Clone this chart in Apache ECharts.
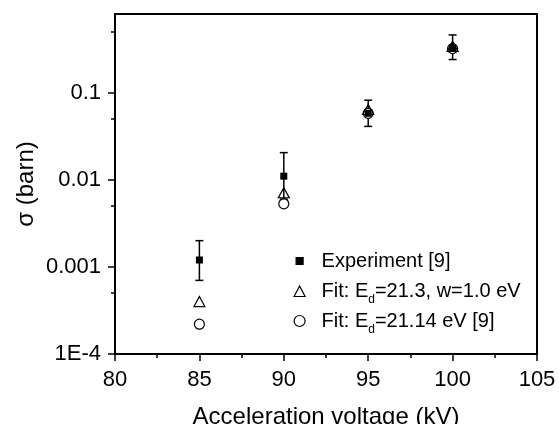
<!DOCTYPE html>
<html>
<head>
<meta charset="utf-8">
<script src="https://cdn.jsdelivr.net/npm/echarts@6/dist/echarts.min.js"></script>
<style>
  html, body { margin: 0; padding: 0; background: #fff; }
  #chart { width: 559px; height: 424px; }
</style>
</head>
<body>
<div id="chart"></div>
<script>
// values
const voltage = [85, 90, 95, 100];
const expValue = [0.0012, 0.011, 0.058, 0.33];
const expLow = [0.0007, 0.006, 0.041, 0.24];
const expHigh = [0.002, 0.0205, 0.082, 0.46];
const fitW = [0.0004, 0.0071, 0.064, 0.34];
const fitOld = [0.00022, 0.0053, 0.058, 0.32];

const yMajor = [1e-4, 1e-3, 1e-2, 1e-1];
const yMinor = [5e-4, 5e-3, 5e-2, 5e-1];

const names = ['Experiment [9]', 'Fit: Ed=21.3, w=1.0 eV', 'Fit: Ed=21.14 eV [9]'];
const legendText = {
  'Experiment [9]': '{f|Experiment [9]}',
  'Fit: Ed=21.3, w=1.0 eV': '{f|Fit: E}{s|d}{m|=21.3, w=1.0 eV}',
  'Fit: Ed=21.14 eV [9]': '{f|Fit: E}{s|d}{m|=21.14 eV [9]}'
};

const font = 'Liberation Sans';
const chart = echarts.init(document.getElementById('chart'));

const pairs = (ys) => voltage.map((x, i) => [x, ys[i]]);
const bars = voltage.map((x, i) => [x, expLow[i], expHigh[i]]);

const option = {
  animation: false,
  grid: {
    left: 115, right: 22, top: 14, bottom: 70,
    outerBoundsMode: 'none',
    show: true, borderColor: '#000', borderWidth: 2
  },
  xAxis: {
    type: 'value',
    min: 80, max: 105, interval: 5,
    name: 'Acceleration voltage (kV)',
    nameLocation: 'middle',
    nameGap: 51,
    nameTextStyle: { fontFamily: font, fontSize: 24, color: '#000' },
    axisLine: { lineStyle: { color: '#000', width: 2 } },
    axisTick: { length: 7, lineStyle: { color: '#000', width: 1.5 } },
    minorTick: { show: true, splitNumber: 2, length: 4, lineStyle: { color: '#000', width: 1.5 } },
    splitLine: { show: false },
    axisLabel: { fontFamily: font, fontSize: 22, color: '#000', margin: 15 }
  },
  yAxis: [
    {
      type: 'log', logBase: 10,
      min: 1e-4, max: 0.8,
      name: 'σ (barn)',
      nameLocation: 'middle',
      nameGap: 77,
      nameMoveOverlap: false,
      nameTextStyle: { fontFamily: font, fontSize: 24, color: '#000' },
      axisLine: { lineStyle: { color: '#000', width: 2 } },
      axisTick: { customValues: yMajor, length: 7, lineStyle: { color: '#000', width: 1.5 } },
      splitLine: { show: false },
      axisLabel: {
        customValues: yMajor,
        fontFamily: font, fontSize: 22, color: '#000', margin: 14,
        formatter: v => (v < 5e-4 ? '1E-4' : String(+v.toPrecision(3)))
      }
    },
    {
      type: 'log', logBase: 10,
      min: 1e-4, max: 0.8,
      position: 'left',
      axisLine: { show: false },
      axisTick: { customValues: yMinor, length: 4, lineStyle: { color: '#000', width: 1.5 } },
      axisLabel: { show: false },
      splitLine: { show: false }
    }
  ],
  legend: {
    orient: 'vertical',
    left: 287, top: 241,
    itemWidth: 14, itemHeight: 14,
    itemGap: 0,
    data: [
      { name: names[0], icon: 'path://M0,0M14,14M3.5,3.5L10.5,3.5L10.5,10.5L3.5,10.5Z' },
      { name: names[1], icon: 'path://M0,0M14,14M1.5,12.5L7,2L12.5,12.5Z' },
      { name: names[2], icon: 'path://M0,0M14,14M12.5,7A5.5,5.5,0,1,1,1.5,7A5.5,5.5,0,1,1,12.5,7Z' }
    ],
    itemStyle: { borderWidth: 1.2, borderColor: '#000' },
    formatter: name => legendText[name],
    textStyle: {
      lineHeight: 30,
      rich: {
        f: { fontFamily: font, fontSize: 20, color: '#000', lineHeight: 30, height: 30, padding: [0, 0, 0, 10] },
        m: { fontFamily: font, fontSize: 20, color: '#000', lineHeight: 30, height: 30 },
        s: { fontFamily: font, fontSize: 12, color: '#000', lineHeight: 12, height: 12, padding: [6, 0, 0, 0], verticalAlign: 'bottom' }
      }
    }
  },
  series: [
    {
      name: 'errorbars',
      type: 'custom',
      data: bars,
      encode: { x: 0, y: [1, 2] },
      z: 1,
      renderItem: (params, api) => {
        const x = api.value(0);
        const lo = api.coord([x, api.value(1)]);
        const hi = api.coord([x, api.value(2)]);
        const cap = 4;
        const st = { stroke: '#000', lineWidth: 1.5 };
        return {
          type: 'group',
          children: [
            { type: 'line', shape: { x1: lo[0], y1: lo[1], x2: hi[0], y2: hi[1] }, style: st },
            { type: 'line', shape: { x1: lo[0] - cap, y1: lo[1], x2: lo[0] + cap, y2: lo[1] }, style: st },
            { type: 'line', shape: { x1: hi[0] - cap, y1: hi[1], x2: hi[0] + cap, y2: hi[1] }, style: st }
          ]
        };
      }
    },
    {
      name: names[2],
      type: 'scatter',
      data: pairs(fitOld),
      symbol: 'circle',
      symbolSize: 10,
      z: 2,
      itemStyle: { color: '#fff', borderColor: '#000', borderWidth: 1.2, opacity: 1 }
    },
    {
      name: names[1],
      type: 'scatter',
      data: pairs(fitW),
      symbol: 'triangle',
      symbolSize: [11, 10],
      z: 3,
      itemStyle: { color: 'rgba(255,255,255,0)', borderColor: '#000', borderWidth: 1.2, opacity: 1 }
    },
    {
      name: names[0],
      type: 'scatter',
      data: pairs(expValue),
      symbol: 'rect',
      symbolSize: 7,
      z: 4,
      itemStyle: { color: '#000', opacity: 1 }
    }
  ]
};

chart.setOption(option);
</script>
</body>
</html>
